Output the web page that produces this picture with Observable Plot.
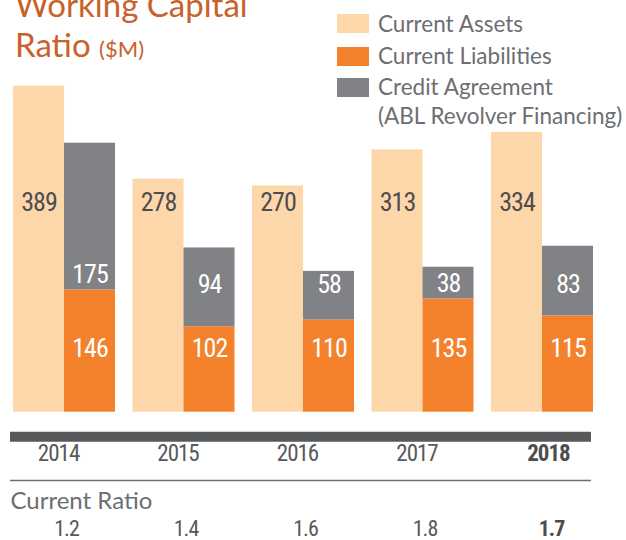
<!DOCTYPE html>
<html>
<head>
<meta charset="utf-8">
<script src="https://cdn.jsdelivr.net/npm/d3@7"></script>
<script src="https://cdn.jsdelivr.net/npm/@observablehq/plot@0.6"></script>
<style>
  html, body { margin: 0; padding: 0; background: #fff; overflow: hidden; }
  #wrap { position: relative; width: 626px; height: 540px; overflow: hidden; }
  #chart { position: absolute; left: 0; top: 0; }
  .title { position: absolute; left: 15px; font-family: Lato, "Open Sans", sans-serif; color: #c8612b; font-size: 33px; line-height: 40px; white-space: nowrap; }
  .title small { font-size: 22px; }
  .leg { position: absolute; left: 337px; font-family: Lato, "Open Sans", sans-serif; color: #6d6e71; font-size: 22.5px; line-height: 31px; white-space: nowrap; }
  .sw { position: absolute; left: 337px; width: 32px; height: 19px; }
</style>
</head>
<body>
<div id="wrap">
  <div id="chart"></div>
  <div class="title" style="top:-16px">Working Capital</div>
  <div class="title" style="top:24px">Ratio <small>($M)</small></div>
  <div id="legend"></div>
</div>
<script>
const years = ["2014", "2015", "2016", "2017", "2018"];
const currentAssets = [389, 278, 270, 313, 334];
const currentLiabilities = [146, 102, 110, 135, 115];
const creditAgreement = [175, 94, 58, 38, 83];
const currentRatio = ["1.2", "1.4", "1.6", "1.8", "1.7"];
const seriesNames = ["Current Assets", "Current Liabilities", "Credit Agreement"];
const seriesColors = ["#fdd7aa", "#f4812b", "#818286"];
const ratioLabel = "Current Ratio";
const creditNote = "(ABL Revolver Financing)";

const numFont = '"Roboto Condensed", "Noto Sans Condensed", "Liberation Sans Narrow", "Arial Narrow", "DejaVu Sans Condensed", sans-serif';

const assetRows = years.map((year, i) => ({year, series: seriesNames[0], value: currentAssets[i]}));
const stackRows = years.flatMap((year, i) => [
  {year, series: seriesNames[1], value: currentLiabilities[i]},
  {year, series: seriesNames[2], value: creditAgreement[i]}
]);
const liabRows = stackRows.filter(d => d.series === seriesNames[1]);
const creditRows = years.map((year, i) => ({year, value: creditAgreement[i], liab: currentLiabilities[i]}));
const ratioRows = years.map((year, i) => ({year, ratio: currentRatio[i]}));
const last = years[years.length - 1];

const half = 51;

const chart = Plot.plot({
  width: 626,
  height: 540,
  marginLeft: 13,
  marginRight: 33,
  marginTop: 76.5,
  marginBottom: 128.3,
  x: {domain: years, paddingInner: 0.146, paddingOuter: 0, round: false, axis: null},
  y: {domain: [0, 400], axis: null},
  color: {domain: seriesNames, range: seriesColors},
  style: {background: "transparent"},
  marks: [
    Plot.barY(assetRows, {x: "year", y: "value", fill: "series", insetRight: half}),
    Plot.barY(stackRows, {x: "year", y: "value", fill: "series", insetLeft: half, order: seriesNames.slice(1)}),
    Plot.text(assetRows, {x: "year", y: () => 250, text: d => String(d.value), dx: -25.5, fill: "#4d4d4f", fontSize: 26, fontFamily: numFont}),
    Plot.text(liabRows, {x: "year", y: () => 76, text: d => String(d.value), dx: 25.5, fill: "#ffffff", fontSize: 26, fontFamily: numFont}),
    Plot.text(creditRows, {x: "year", y: d => Math.max(152, d.liab + 18), text: d => String(d.value), dx: 25.5, fill: "#ffffff", fontSize: 26, fontFamily: numFont}),
    Plot.ruleY([0], {dy: 24.5, strokeWidth: 10, stroke: "#58595b", insetLeft: -3, insetRight: 2}),
    Plot.ruleY([0], {dy: 68.3, strokeWidth: 1.5, stroke: "#6d6e71", insetLeft: -3, insetRight: 2}),
    Plot.text(years.filter(y => y !== last), {x: d => d, y: () => 0, dy: 41, text: d => d, dx: -6, fill: "#58595b", fontSize: 23, fontFamily: numFont}),
    Plot.text([last], {x: d => d, y: () => 0, dy: 41, text: d => d, dx: 6, fill: "#4d4d4f", fontWeight: "bold", fontSize: 23, fontFamily: numFont}),
    Plot.text([ratioLabel], {frameAnchor: "bottom-left", lineAnchor: "middle", text: d => d, dx: -3, dy: 89, textAnchor: "start", fill: "#6d6e71", fontSize: 24, fontFamily: 'Lato, "Open Sans", sans-serif'}),
    Plot.text(ratioRows.filter(d => d.year !== last), {x: "year", y: () => 0, dy: 117, text: "ratio", dx: 2, fill: "#58595b", fontSize: 22, fontFamily: numFont}),
    Plot.text(ratioRows.filter(d => d.year === last), {x: "year", y: () => 0, dy: 117, text: "ratio", dx: 9, fill: "#4d4d4f", fontWeight: "bold", fontSize: 22, fontFamily: numFont})
  ]
});
d3.select(chart).selectAll("g").filter(function() {
  const f = this.getAttribute("font-family");
  return f && f.includes("Condensed");
}).attr("letter-spacing", "-1px");
document.getElementById("chart").appendChild(chart);

// legend
const legend = document.getElementById("legend");
const swTops = [14, 47, 78];
const textTops = [8, 40, 71];
seriesNames.forEach((name, i) => {
  const sw = document.createElement("div");
  sw.className = "sw";
  sw.style.top = swTops[i] + "px";
  sw.style.background = seriesColors[i];
  legend.appendChild(sw);
  const t = document.createElement("div");
  t.className = "leg";
  t.style.left = "378px";
  t.style.top = textTops[i] + "px";
  t.textContent = name;
  legend.appendChild(t);
});
const note = document.createElement("div");
note.className = "leg";
note.style.left = "378px";
note.style.top = "100px";
note.textContent = creditNote;
legend.appendChild(note);
</script>
</body>
</html>
